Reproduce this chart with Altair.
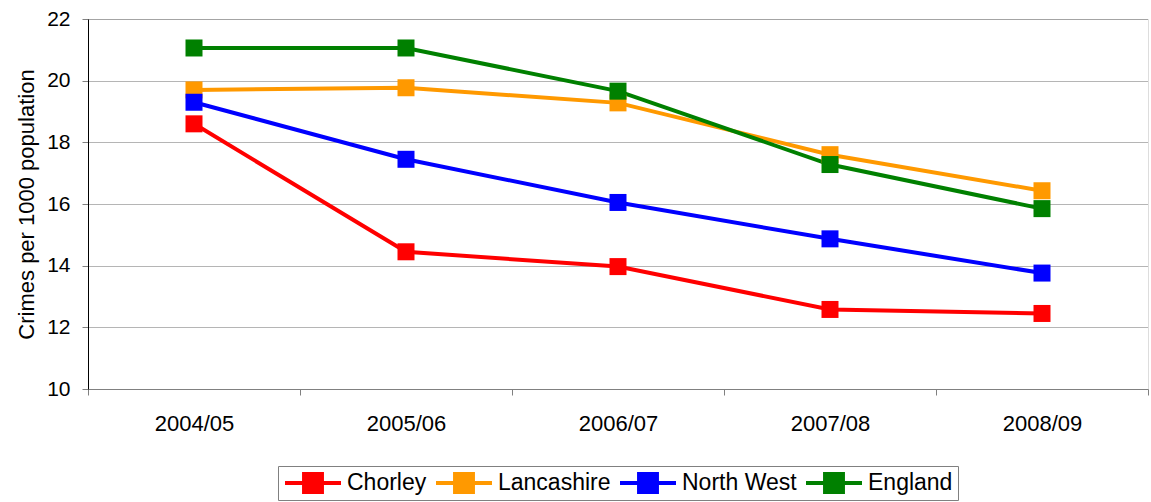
import altair as alt
import pandas as pd

years = ["2004/05", "2005/06", "2006/07", "2007/08", "2008/09"]
areas = ["Chorley", "Lancashire", "North West", "England"]
colors = ["#ff0000", "#ff9900", "#0000ff", "#008000"]

chorley = [18.6, 14.45, 13.97, 12.58, 12.45]
lancashire = [19.7, 19.77, 19.28, 17.6, 16.43]
north_west = [19.3, 17.45, 16.05, 14.87, 13.76]
england = [21.06, 21.06, 19.66, 17.28, 15.85]

series = {"Chorley": chorley, "Lancashire": lancashire,
          "North West": north_west, "England": england}
rows = [{"Year": y, "Area": a, "Rate": v}
        for a in areas for y, v in zip(years, series[a])]
df = pd.DataFrame(rows)

FONT = "Liberation Sans"

# legend swatch: a short line with a square in the middle
swatch = "M-1,0 L1,0 M-0.32,-0.32 L0.32,-0.32 L0.32,0.32 L-0.32,0.32 Z"

color = alt.Color(
    "Area:N",
    scale=alt.Scale(domain=areas, range=colors),
    sort=areas,
    legend=alt.Legend(
        title=None,
        orient="none",
        legendX=190,
        legendY=447,
        direction="horizontal",
        symbolType=swatch,
        symbolSize=3136,
        symbolStrokeWidth=4,
        symbolOpacity=1,
        clipHeight=24,
        labelFont=FONT,
        labelFontSize=23,
        labelColor="#000000",
        columnPadding=7,
        labelOffset=4,
        padding=5,
        strokeColor="#808080",
        fillColor="#ffffff",
    ),
)

x = alt.X(
    "Year:N",
    sort=years,
    scale=alt.Scale(paddingInner=0, paddingOuter=0),
    axis=alt.Axis(
        title=None,
        labelAngle=0,
        labelFont=FONT,
        labelFontSize=22,
        labelColor="#000000",
        labelPadding=18,
        tickBand="extent",
        tickSize=6,
        tickColor="#808080",
        domainColor="#808080",
        grid=False,
    ),
)
y = alt.Y(
    "Rate:Q",
    scale=alt.Scale(domain=[10, 22], nice=False, zero=False),
    axis=alt.Axis(
        title="Crimes per 1000 population",
        titleFont=FONT,
        titleFontSize=22,
        titleFontWeight="normal",
        titleColor="#000000",
        titlePadding=8,
        values=[10, 12, 14, 16, 18, 20, 22],
        labelFont=FONT,
        labelFontSize=21,
        labelColor="#000000",
        labelPadding=12,
        tickSize=6,
        tickColor="#808080",
        domainColor="#000000",
        gridColor="#6a6a6a",
        gridDash=[1, 1],
        gridWidth=1,
    ),
)

base = alt.Chart(df).encode(x=x, y=y, color=color)
lines = base.mark_line(strokeWidth=4)
points = base.mark_point(shape="square", size=289, filled=True, opacity=1)

chart = (
    alt.layer(lines, points)
    .properties(width=1060, height=370,
                padding={"left": 88, "top": 19, "right": 3, "bottom": 113},
                autosize=alt.AutoSizeParams(type="none"))
    .configure_view(stroke=None)
    .configure(background="#ffffff")
)

chart.save("out.html", embed_options={"renderer": "svg", "actions": False})
